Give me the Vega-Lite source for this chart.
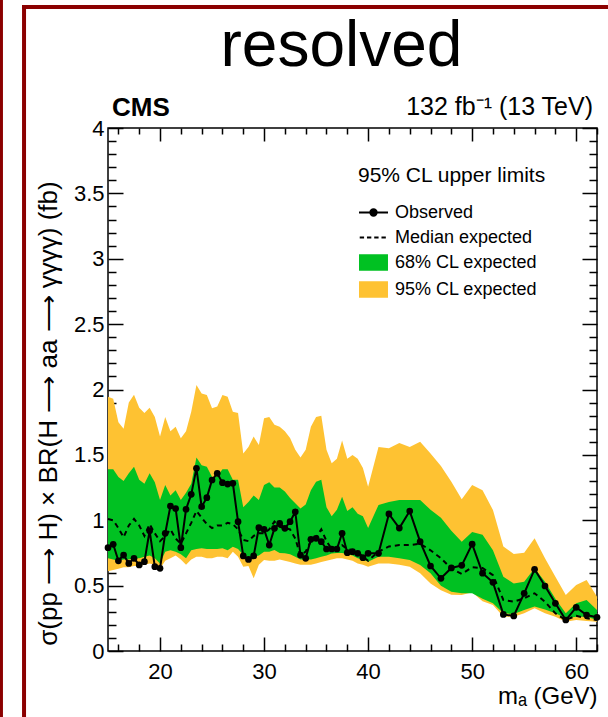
{
  "$schema": "https://vega.github.io/schema/vega-lite/v6.json",
  "width": 489,
  "height": 523,
  "autosize": {"type": "none"},
  "padding": {"left": 108, "top": 128, "right": 11, "bottom": 66},
  "background": "white",
  "title": {"text": "resolved", "font": "Liberation Sans", "fontSize": 64, "fontWeight": "normal", "color": "black", "anchor": "middle", "baseline": "alphabetic", "dx": -11, "offset": -134},
  "config": {
    "view": {"stroke": "black", "strokeWidth": 1.5},
    "font": "Liberation Sans",
    "axis": {"domain": false, "grid": false, "tickColor": "black", "tickWidth": 1.5, "labelColor": "black", "labelFont": "Liberation Sans", "labelFontSize": 22, "labelFlush": false, "labelOverlap": false, "titleColor": "black", "titleFont": "Liberation Sans", "titleFontWeight": "normal"}
  },
  "data": {"values": [
    {"m": 15.0, "obs": 0.79, "exp": 1.01, "lo68": 0.71, "hi68": 1.39, "lo95": 0.61, "hi95": 1.945},
    {"m": 15.5, "obs": 0.816, "exp": 1.0, "lo68": 0.70, "hi68": 1.39, "lo95": 0.62, "hi95": 1.93},
    {"m": 16.0, "obs": 0.69, "exp": 0.94, "lo68": 0.69, "hi68": 1.33, "lo95": 0.63, "hi95": 1.75},
    {"m": 16.5, "obs": 0.734, "exp": 0.87, "lo68": 0.70, "hi68": 1.30, "lo95": 0.64, "hi95": 1.70},
    {"m": 17.0, "obs": 0.67, "exp": 0.96, "lo68": 0.70, "hi68": 1.36, "lo95": 0.64, "hi95": 1.90},
    {"m": 17.5, "obs": 0.709, "exp": 1.01, "lo68": 0.71, "hi68": 1.41, "lo95": 0.65, "hi95": 1.96},
    {"m": 18.0, "obs": 0.658, "exp": 0.96, "lo68": 0.71, "hi68": 1.31, "lo95": 0.65, "hi95": 1.86},
    {"m": 18.5, "obs": 0.683, "exp": 0.88, "lo68": 0.72, "hi68": 1.28, "lo95": 0.66, "hi95": 1.82},
    {"m": 19.0, "obs": 0.92, "exp": 0.97, "lo68": 0.73, "hi68": 1.36, "lo95": 0.67, "hi95": 1.86},
    {"m": 19.5, "obs": 0.645, "exp": 0.90, "lo68": 0.71, "hi68": 1.29, "lo95": 0.66, "hi95": 1.79},
    {"m": 20.0, "obs": 0.632, "exp": 0.84, "lo68": 0.67, "hi68": 1.155, "lo95": 0.63, "hi95": 1.64},
    {"m": 20.5, "obs": 0.90, "exp": 0.88, "lo68": 0.76, "hi68": 1.27, "lo95": 0.69, "hi95": 1.79},
    {"m": 21.0, "obs": 1.109, "exp": 0.93, "lo68": 0.77, "hi68": 1.19, "lo95": 0.71, "hi95": 1.68},
    {"m": 21.5, "obs": 1.09, "exp": 0.86, "lo68": 0.76, "hi68": 1.23, "lo95": 0.73, "hi95": 1.715},
    {"m": 22.0, "obs": 0.79, "exp": 0.82, "lo68": 0.74, "hi68": 1.155, "lo95": 0.70, "hi95": 1.627},
    {"m": 22.5, "obs": 1.084, "exp": 0.90, "lo68": 0.71, "hi68": 1.21, "lo95": 0.66, "hi95": 1.68},
    {"m": 23.0, "obs": 1.198, "exp": 0.98, "lo68": 0.77, "hi68": 1.28, "lo95": 0.70, "hi95": 1.83},
    {"m": 23.5, "obs": 1.397, "exp": 1.07, "lo68": 0.78, "hi68": 1.48, "lo95": 0.72, "hi95": 2.034},
    {"m": 24.0, "obs": 1.104, "exp": 1.02, "lo68": 0.785, "hi68": 1.42, "lo95": 0.72, "hi95": 1.97},
    {"m": 24.5, "obs": 1.173, "exp": 0.97, "lo68": 0.78, "hi68": 1.41, "lo95": 0.71, "hi95": 1.958},
    {"m": 25.0, "obs": 1.308, "exp": 0.94, "lo68": 0.78, "hi68": 1.33, "lo95": 0.71, "hi95": 1.856},
    {"m": 25.5, "obs": 1.359, "exp": 0.96, "lo68": 0.78, "hi68": 1.335, "lo95": 0.72, "hi95": 1.87},
    {"m": 26.0, "obs": 1.287, "exp": 0.96, "lo68": 0.785, "hi68": 1.39, "lo95": 0.72, "hi95": 1.958},
    {"m": 26.5, "obs": 1.277, "exp": 0.98, "lo68": 0.77, "hi68": 1.39, "lo95": 0.71, "hi95": 1.945},
    {"m": 27.0, "obs": 1.283, "exp": 0.97, "lo68": 0.797, "hi68": 1.31, "lo95": 0.76, "hi95": 1.83},
    {"m": 27.5, "obs": 0.989, "exp": 0.93, "lo68": 0.78, "hi68": 1.31, "lo95": 0.72, "hi95": 1.82},
    {"m": 28.0, "obs": 0.727, "exp": 0.85, "lo68": 0.734, "hi68": 1.10, "lo95": 0.645, "hi95": 1.51},
    {"m": 28.5, "obs": 0.70, "exp": 0.84, "lo68": 0.709, "hi68": 1.14, "lo95": 0.65, "hi95": 1.56},
    {"m": 29.0, "obs": 0.727, "exp": 0.88, "lo68": 0.72, "hi68": 1.19, "lo95": 0.556, "hi95": 1.64},
    {"m": 29.5, "obs": 0.943, "exp": 0.90, "lo68": 0.73, "hi68": 1.155, "lo95": 0.66, "hi95": 1.575},
    {"m": 30.0, "obs": 0.93, "exp": 0.90, "lo68": 0.76, "hi68": 1.27, "lo95": 0.696, "hi95": 1.78},
    {"m": 30.5, "obs": 0.81, "exp": 0.93, "lo68": 0.76, "hi68": 1.29, "lo95": 0.69, "hi95": 1.79},
    {"m": 31.0, "obs": 0.938, "exp": 0.99, "lo68": 0.772, "hi68": 1.25, "lo95": 0.69, "hi95": 1.73},
    {"m": 31.5, "obs": 0.977, "exp": 0.95, "lo68": 0.75, "hi68": 1.25, "lo95": 0.70, "hi95": 1.715},
    {"m": 32.0, "obs": 0.938, "exp": 0.94, "lo68": 0.747, "hi68": 1.22, "lo95": 0.69, "hi95": 1.68},
    {"m": 32.5, "obs": 0.989, "exp": 0.93, "lo68": 0.74, "hi68": 1.17, "lo95": 0.68, "hi95": 1.63},
    {"m": 33.0, "obs": 1.065, "exp": 0.86, "lo68": 0.72, "hi68": 1.13, "lo95": 0.67, "hi95": 1.54},
    {"m": 33.5, "obs": 0.734, "exp": 0.73, "lo68": 0.70, "hi68": 1.09, "lo95": 0.66, "hi95": 1.48},
    {"m": 34.0, "obs": 0.709, "exp": 0.76, "lo68": 0.70, "hi68": 1.12, "lo95": 0.66, "hi95": 1.54},
    {"m": 34.5, "obs": 0.854, "exp": 0.84, "lo68": 0.70, "hi68": 1.23, "lo95": 0.66, "hi95": 1.715},
    {"m": 35.0, "obs": 0.862, "exp": 0.87, "lo68": 0.71, "hi68": 1.295, "lo95": 0.67, "hi95": 1.79},
    {"m": 35.5, "obs": 0.836, "exp": 0.93, "lo68": 0.72, "hi68": 1.31, "lo95": 0.68, "hi95": 1.80},
    {"m": 36.0, "obs": 0.78, "exp": 0.84, "lo68": 0.73, "hi68": 1.10, "lo95": 0.69, "hi95": 1.54},
    {"m": 36.5, "obs": 0.78, "exp": 0.78, "lo68": 0.745, "hi68": 1.03, "lo95": 0.70, "hi95": 1.435},
    {"m": 37.0, "obs": 0.78, "exp": 0.79, "lo68": 0.75, "hi68": 1.08, "lo95": 0.71, "hi95": 1.47},
    {"m": 37.5, "obs": 0.90, "exp": 0.81, "lo68": 0.75, "hi68": 1.18, "lo95": 0.71, "hi95": 1.61},
    {"m": 38.0, "obs": 0.752, "exp": 0.78, "lo68": 0.74, "hi68": 1.07, "lo95": 0.70, "hi95": 1.47},
    {"m": 38.5, "obs": 0.76, "exp": 0.77, "lo68": 0.73, "hi68": 1.10, "lo95": 0.69, "hi95": 1.50},
    {"m": 39.0, "obs": 0.747, "exp": 0.76, "lo68": 0.71, "hi68": 1.05, "lo95": 0.67, "hi95": 1.47},
    {"m": 39.5, "obs": 0.714, "exp": 0.72, "lo68": 0.70, "hi68": 1.03, "lo95": 0.66, "hi95": 1.40},
    {"m": 40.0, "obs": 0.747, "exp": 0.69, "lo68": 0.683, "hi68": 0.94, "lo95": 0.645, "hi95": 1.257},
    {"m": 41.0, "obs": 0.747, "exp": 0.76, "lo68": 0.72, "hi68": 1.117, "lo95": 0.67, "hi95": 1.56},
    {"m": 42.0, "obs": 1.048, "exp": 0.80, "lo68": 0.72, "hi68": 1.14, "lo95": 0.67, "hi95": 1.55},
    {"m": 43.0, "obs": 0.94, "exp": 0.81, "lo68": 0.71, "hi68": 1.155, "lo95": 0.66, "hi95": 1.59},
    {"m": 44.0, "obs": 1.07, "exp": 0.81, "lo68": 0.696, "hi68": 1.155, "lo95": 0.645, "hi95": 1.56},
    {"m": 45.0, "obs": 0.836, "exp": 0.82, "lo68": 0.658, "hi68": 1.155, "lo95": 0.594, "hi95": 1.60},
    {"m": 46.0, "obs": 0.65, "exp": 0.77, "lo68": 0.594, "hi68": 1.08, "lo95": 0.517, "hi95": 1.51},
    {"m": 47.0, "obs": 0.556, "exp": 0.71, "lo68": 0.50, "hi68": 1.02, "lo95": 0.465, "hi95": 1.415},
    {"m": 48.0, "obs": 0.635, "exp": 0.63, "lo68": 0.454, "hi68": 0.92, "lo95": 0.43, "hi95": 1.295},
    {"m": 49.0, "obs": 0.655, "exp": 0.59, "lo68": 0.441, "hi68": 0.836, "lo95": 0.428, "hi95": 1.16},
    {"m": 50.0, "obs": 0.817, "exp": 0.64, "lo68": 0.441, "hi68": 0.91, "lo95": 0.45, "hi95": 1.27},
    {"m": 51.0, "obs": 0.595, "exp": 0.635, "lo68": 0.40, "hi68": 0.89, "lo95": 0.38, "hi95": 1.23},
    {"m": 52.0, "obs": 0.525, "exp": 0.58, "lo68": 0.365, "hi68": 0.77, "lo95": 0.352, "hi95": 1.078},
    {"m": 53.0, "obs": 0.28, "exp": 0.39, "lo68": 0.288, "hi68": 0.568, "lo95": 0.262, "hi95": 0.80},
    {"m": 54.0, "obs": 0.268, "exp": 0.377, "lo68": 0.283, "hi68": 0.517, "lo95": 0.262, "hi95": 0.742},
    {"m": 55.0, "obs": 0.441, "exp": 0.403, "lo68": 0.313, "hi68": 0.53, "lo95": 0.288, "hi95": 0.752},
    {"m": 56.0, "obs": 0.625, "exp": 0.441, "lo68": 0.34, "hi68": 0.632, "lo95": 0.327, "hi95": 0.862},
    {"m": 57.0, "obs": 0.497, "exp": 0.377, "lo68": 0.318, "hi68": 0.53, "lo95": 0.288, "hi95": 0.709},
    {"m": 58.0, "obs": 0.365, "exp": 0.288, "lo68": 0.288, "hi68": 0.40, "lo95": 0.262, "hi95": 0.568},
    {"m": 59.0, "obs": 0.237, "exp": 0.237, "lo68": 0.25, "hi68": 0.288, "lo95": 0.224, "hi95": 0.428},
    {"m": 60.0, "obs": 0.334, "exp": 0.27, "lo68": 0.262, "hi68": 0.365, "lo95": 0.237, "hi95": 0.505},
    {"m": 61.0, "obs": 0.275, "exp": 0.25, "lo68": 0.262, "hi68": 0.39, "lo95": 0.23, "hi95": 0.543},
    {"m": 62.0, "obs": 0.258, "exp": 0.237, "lo68": 0.237, "hi68": 0.313, "lo95": 0.224, "hi95": 0.415}
  ]},
  "layer": [
    {
      "mark": {"type": "area", "opacity": 1, "interpolate": "linear", "color": "#fec232"},
      "encoding": {
        "x": {"field": "m", "type": "quantitative", "scale": {"domain": [15, 62], "nice": false, "zero": false},
          "axis": {"orient": "bottom", "values": [20, 30, 40, 50, 60], "format": "d", "tickSize": -14, "labelPadding": 24,
            "title": "mₐ (GeV)", "titleFontSize": 24, "titleAlign": "right", "titleBaseline": "alphabetic", "titleX": 489, "titleY": 52}},
        "y": {"field": "lo95", "type": "quantitative", "scale": {"domain": [0, 4], "nice": false},
          "axis": {"orient": "left", "values": [0, 0.5, 1, 1.5, 2, 2.5, 3, 3.5, 4], "format": "~g", "tickSize": -15, "labelPadding": 19,
            "title": "σ(pp ⟶ H) × BR(H ⟶ aa ⟶ γγγγ) (fb)", "titleFontSize": 26, "titleAngle": -90, "titleAlign": "center", "titleBaseline": "alphabetic", "titleX": -52, "titleY": 285}},
        "y2": {"field": "hi95"}
      }
    },
    {
      "mark": {"type": "area", "opacity": 1, "interpolate": "linear", "color": "#00c122"},
      "encoding": {
        "x": {"field": "m", "type": "quantitative",
          "axis": {"orient": "bottom", "values": [16, 18, 22, 24, 26, 28, 32, 34, 36, 38, 42, 44, 46, 48, 52, 54, 56, 58, 62], "tickSize": -7, "labels": false, "title": null}},
        "y": {"field": "lo68", "type": "quantitative",
          "axis": {"orient": "left", "values": [0.1, 0.2, 0.3, 0.4, 0.6, 0.7, 0.8, 0.9, 1.1, 1.2, 1.3, 1.4, 1.6, 1.7, 1.8, 1.9, 2.1, 2.2, 2.3, 2.4, 2.6, 2.7, 2.8, 2.9, 3.1, 3.2, 3.3, 3.4, 3.6, 3.7, 3.8, 3.9], "tickSize": -8, "labels": false, "title": null}},
        "y2": {"field": "hi68"}
      }
    },
    {
      "mark": {"type": "line", "strokeDash": [5, 4], "strokeWidth": 2, "color": "black"},
      "encoding": {
        "x": {"field": "m", "type": "quantitative",
          "axis": {"orient": "top", "values": [20, 30, 40, 50, 60], "tickSize": -13, "labels": false, "title": null}},
        "y": {"field": "exp", "type": "quantitative",
          "axis": {"orient": "right", "values": [0, 0.5, 1, 1.5, 2, 2.5, 3, 3.5, 4], "tickSize": -15, "labels": false, "title": null}}
      }
    },
    {
      "mark": {"type": "line", "strokeWidth": 2, "color": "black"},
      "encoding": {
        "x": {"field": "m", "type": "quantitative",
          "axis": {"orient": "top", "values": [16, 18, 22, 24, 26, 28, 32, 34, 36, 38, 42, 44, 46, 48, 52, 54, 56, 58, 62], "tickSize": -6, "labels": false, "title": null}},
        "y": {"field": "obs", "type": "quantitative",
          "axis": {"orient": "right", "values": [0.1, 0.2, 0.3, 0.4, 0.6, 0.7, 0.8, 0.9, 1.1, 1.2, 1.3, 1.4, 1.6, 1.7, 1.8, 1.9, 2.1, 2.2, 2.3, 2.4, 2.6, 2.7, 2.8, 2.9, 3.1, 3.2, 3.3, 3.4, 3.6, 3.7, 3.8, 3.9], "tickSize": -8, "labels": false, "title": null}}
      }
    },
    {
      "mark": {"type": "point", "filled": true, "size": 45, "opacity": 1},
      "encoding": {
        "x": {"field": "m", "type": "quantitative", "axis": null},
        "y": {"field": "obs", "type": "quantitative", "axis": null},
        "color": {"datum": "Observed",
          "scale": {"domain": ["Observed", "Median expected", "68% CL expected", "95% CL expected"], "range": ["black", "black", "#00c122", "#fec232"]},
          "legend": {
            "orient": "none", "legendX": 250, "legendY": 37,
            "title": "95% CL upper limits", "titleFont": "Liberation Sans", "titleFontSize": 21, "titleFontWeight": "normal", "titleColor": "black", "titlePadding": 11, "titleLimit": 400,
            "labelFont": "Liberation Sans", "labelFontSize": 18, "labelColor": "black", "labelOffset": 6, "labelLimit": 300,
            "symbolSize": 841, "rowPadding": -2, "symbolStrokeWidth": 2,
            "symbolType": {"expr": "datum.value === 'Observed' ? 'M-1,0H1M0.22,0A0.22,0.22,0,1,1,-0.22,0A0.22,0.22,0,1,1,0.22,0Z' : datum.value === 'Median expected' ? 'M-0.95,0H-0.65M-0.45,0H-0.15M0.05,0H0.35M0.55,0H0.85' : 'M-0.93,-0.5H0.93V0.5H-0.93Z'"},
            "symbolStrokeColor": {"expr": "datum.value === '68% CL expected' ? '#00c122' : datum.value === '95% CL expected' ? '#fec232' : 'black'"}
          }}
      }
    },
    {
      "data": {"values": [{"label": "CMS"}]},
      "mark": {"type": "text", "font": "Liberation Sans", "fontSize": 26, "fontWeight": "bold", "color": "black", "align": "left", "baseline": "alphabetic", "dx": 4, "dy": -12},
      "encoding": {
        "x": {"datum": 15, "type": "quantitative", "axis": null},
        "y": {"datum": 4, "type": "quantitative", "axis": null},
        "text": {"field": "label"}
      }
    },
    {
      "data": {"values": [{"label": "132 fb⁻¹ (13 TeV)"}]},
      "mark": {"type": "text", "font": "Liberation Sans", "fontSize": 25, "fontWeight": "normal", "color": "black", "align": "right", "baseline": "alphabetic", "dx": -4, "dy": -13},
      "encoding": {
        "x": {"datum": 62, "type": "quantitative", "axis": null},
        "y": {"datum": 4, "type": "quantitative", "axis": null},
        "text": {"field": "label"}
      }
    },
    {
      "data": {"values": [{}]},
      "mark": {"type": "rule", "color": "#8b0000", "strokeWidth": 3},
      "encoding": {
        "x": {"datum": 4.76, "type": "quantitative", "axis": null},
        "y": {"datum": -0.6, "type": "quantitative", "axis": null},
        "y2": {"datum": 5.0}
      }
    },
    {
      "data": {"values": [{}]},
      "mark": {"type": "rule", "color": "#8b0000", "strokeWidth": 4},
      "encoding": {
        "x": {"datum": 6.93, "type": "quantitative", "axis": null},
        "y": {"datum": -0.6, "type": "quantitative", "axis": null},
        "y2": {"datum": 4.94}
      }
    },
    {
      "data": {"values": [{}]},
      "mark": {"type": "rule", "color": "#8b0000", "strokeWidth": 4},
      "encoding": {
        "x": {"datum": 6.74, "type": "quantitative", "axis": null},
        "x2": {"datum": 63.5},
        "y": {"datum": 4.925, "type": "quantitative", "axis": null}
      }
    }
  ],
  "resolve": {"axis": {"x": "independent", "y": "independent"}}
}
